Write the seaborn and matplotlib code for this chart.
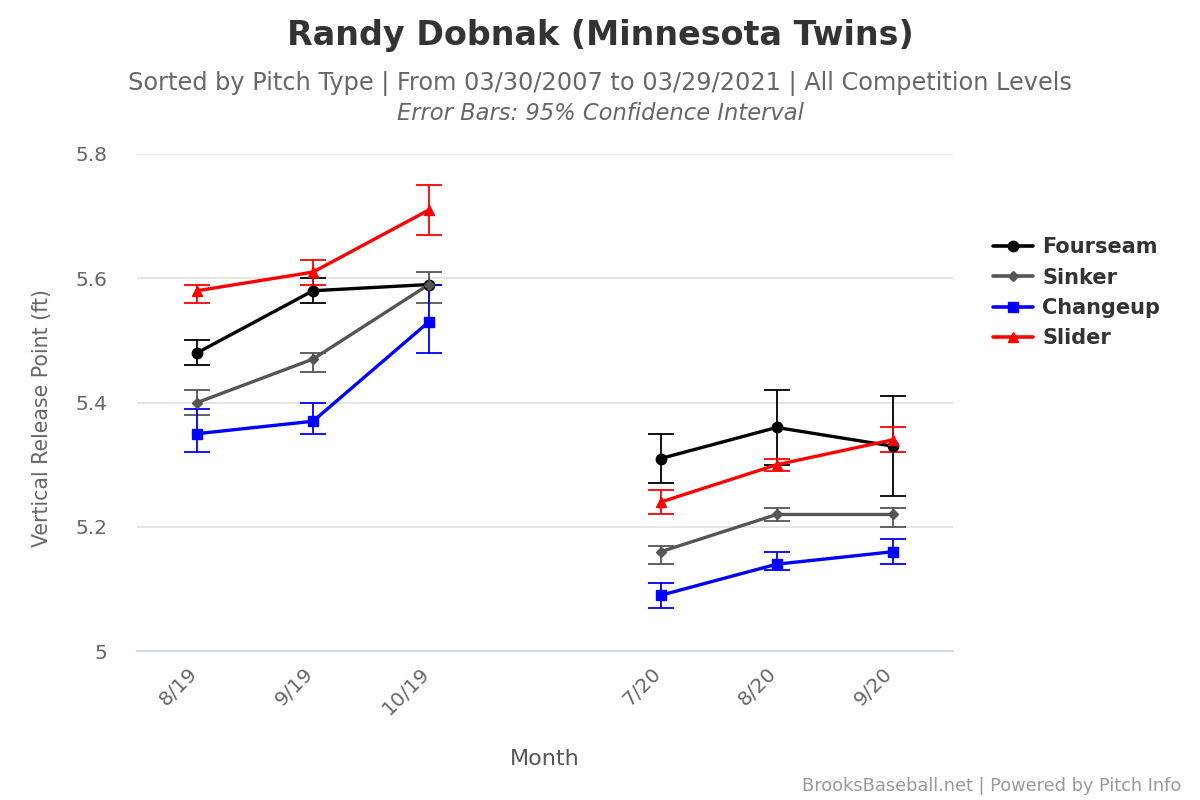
import pandas as pd
import numpy as np
import matplotlib.pyplot as plt
import matplotlib.transforms as mtransforms
import seaborn as sns
from matplotlib.lines import Line2D

# month slots on the x axis (the blank one is the off-season gap)
month_slots = ['8/19', '9/19', '10/19', '', '7/20', '8/20', '9/20']
months = ['8/19', '9/19', '10/19', '7/20', '8/20', '9/20']
season = ['2019', '2019', '2019', '2020', '2020', '2020']

pitches = ['Fourseam', 'Sinker', 'Changeup', 'Slider']

fourseam = [5.48, 5.58, 5.59, 5.31, 5.36, 5.33]
fourseam_lo = [5.46, 5.56, 5.59, 5.27, 5.30, 5.25]
fourseam_hi = [5.50, 5.60, 5.59, 5.35, 5.42, 5.41]

sinker = [5.40, 5.47, 5.59, 5.16, 5.22, 5.22]
sinker_lo = [5.38, 5.45, 5.56, 5.14, 5.21, 5.20]
sinker_hi = [5.42, 5.48, 5.61, 5.17, 5.23, 5.23]

changeup = [5.35, 5.37, 5.53, 5.09, 5.14, 5.16]
changeup_lo = [5.32, 5.35, 5.48, 5.07, 5.13, 5.14]
changeup_hi = [5.39, 5.40, 5.59, 5.11, 5.16, 5.18]

slider = [5.58, 5.61, 5.71, 5.24, 5.30, 5.34]
slider_lo = [5.56, 5.59, 5.67, 5.22, 5.29, 5.32]
slider_hi = [5.59, 5.63, 5.75, 5.26, 5.31, 5.36]

colors = {'Fourseam': '#000000', 'Sinker': '#555555',
          'Changeup': '#0000ff', 'Slider': '#ff0000'}
markers = {'Fourseam': 'o', 'Sinker': 'D', 'Changeup': 's', 'Slider': '^'}
msizes = {'Fourseam': 7.5, 'Sinker': 5.5, 'Changeup': 7.5, 'Slider': 7.5}

vals = {'Fourseam': (fourseam, fourseam_lo, fourseam_hi),
        'Sinker': (sinker, sinker_lo, sinker_hi),
        'Changeup': (changeup, changeup_lo, changeup_hi),
        'Slider': (slider, slider_lo, slider_hi)}

rows = []
for p in pitches:
    v, lo, hi = vals[p]
    for i, m in enumerate(months):
        rows.append({'pitch': p, 'month': m, 'pos': month_slots.index(m),
                     'season': season[i], 'value': v[i], 'lo': lo[i], 'hi': hi[i]})
df = pd.DataFrame(rows)

sns.set_style('white')
plt.rcParams['font.family'] = ['DejaVu Sans']

fig = plt.figure(figsize=(12, 8), dpi=100)
ax = fig.add_axes([0.114, 0.186, 0.68, 0.6215])

sns.lineplot(data=df, x='pos', y='value', hue='pitch', units='season',
             estimator=None, palette=colors, linewidth=2.4, legend=False,
             ax=ax, zorder=3)

for p in pitches:
    d = df[df['pitch'] == p]
    ax.errorbar(d['pos'], d['value'],
                yerr=[d['value'] - d['lo'], d['hi'] - d['value']],
                fmt='none', ecolor=colors[p], elinewidth=1.3,
                capsize=9.7, capthick=1.3, zorder=2)
    ax.plot(d['pos'], d['value'], linestyle='none', marker=markers[p],
            color=colors[p], markersize=msizes[p], zorder=4)

ax.set_xlim(-0.52, 6.52)
ax.set_ylim(5.0, 5.8)
ax.set_yticks([5.0, 5.2, 5.4, 5.6, 5.8])
ax.set_yticklabels(['5', '5.2', '5.4', '5.6', '5.8'])
ax.set_xticks([month_slots.index(m) for m in months])
ax.set_xticklabels(months, rotation=45, ha='right', va='center', rotation_mode='anchor')
ax.tick_params(axis='both', length=0, labelsize=14.5, labelcolor='#666666')
ax.tick_params(axis='x', pad=14)
ax.tick_params(axis='y', pad=21)
shift = mtransforms.ScaledTranslation(-2 / 72, 0, fig.dpi_scale_trans)
for lbl in ax.get_xticklabels():
    lbl.set_transform(lbl.get_transform() + shift)
ax.grid(axis='y', color='#e3e3e3', linewidth=1.3)
ax.set_axisbelow(True)
for s in ['top', 'right', 'left']:
    ax.spines[s].set_visible(False)
ax.spines['bottom'].set_color('#ccd6eb')
ax.spines['bottom'].set_linewidth(1.3)

ax.set_xlabel('Month', fontsize=16, color='#555555', labelpad=22)
ax.set_ylabel('Vertical Release Point (ft)', fontsize=14.8, color='#666666')
ax.yaxis.set_label_coords(-0.104, 0.47)

fig.text(0.5, 0.955, 'Randy Dobnak (Minnesota Twins)', ha='center', va='center',
         fontsize=24, fontweight='bold', color='#333333')
fig.text(0.5, 0.895, 'Sorted by Pitch Type | From 03/30/2007 to 03/29/2021 | All Competition Levels',
         ha='center', va='center', fontsize=17.3, color='#666666')
fig.text(0.5, 0.858, 'Error Bars: 95% Confidence Interval', ha='center', va='center',
         fontsize=16.3, color='#666666', style='italic')
fig.text(0.984, 0.018, 'BrooksBaseball.net | Powered by Pitch Info', ha='right', va='center',
         fontsize=12.8, color='#999999')

handles = [Line2D([0], [0], color=colors[p], linewidth=2.6, marker=markers[p],
                  markersize=msizes[p]) for p in pitches]
leg = fig.legend(handles, pitches, loc='center left', bbox_to_anchor=(0.812, 0.634),
                 frameon=False, handlelength=1.9, handletextpad=0.45, labelspacing=0.5,
                 prop={'size': 15, 'weight': 'bold'})
for t in leg.get_texts():
    t.set_color('#333333')

fig.savefig('out.png', dpi=100)
